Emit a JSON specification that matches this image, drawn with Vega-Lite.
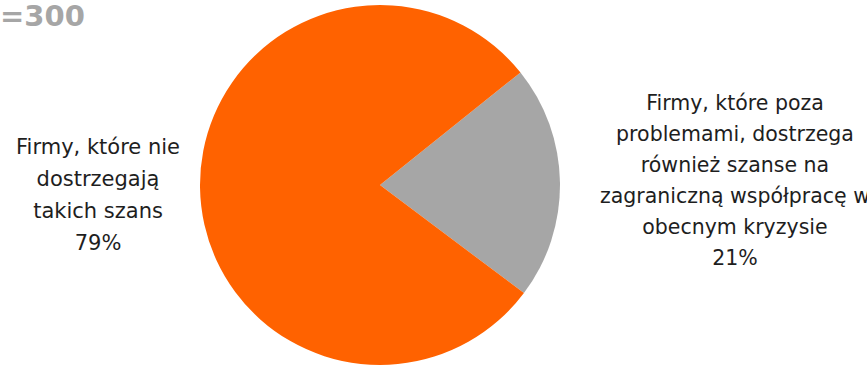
{
  "$schema": "https://vega.github.io/schema/vega-lite/v6.json",
  "width": 760,
  "height": 366,
  "autosize": {"type": "none"},
  "padding": {"left": 0, "top": 2, "right": 107, "bottom": 0},
  "title": {
    "text": "=300",
    "anchor": "start",
    "frame": "group",
    "offset": -30,
    "fontSize": 29,
    "fontWeight": "bold",
    "font": "DejaVu Sans",
    "color": "#A6A6A6"
  },
  "data": {
    "values": [
      {"kategoria": "Dostrzegają szanse", "label": "Firmy, które poza\nproblemami, dostrzega\nrównież szanse na\nzagraniczną współpracę w\nobecnym kryzysie\n21%", "value": 21},
      {"kategoria": "Nie dostrzegają", "label": "Firmy, które nie\ndostrzegają\ntakich szans\n79%", "value": 79}
    ]
  },
  "encoding": {
    "theta": {"field": "value", "type": "quantitative", "stack": true, "scale": {"range": [0.8954, 7.1786]}},
    "order": {"field": "kategoria", "sort": "ascending"}
  },
  "layer": [
    {
      "mark": {"type": "arc", "outerRadius": 180},
      "encoding": {
        "color": {"field": "kategoria", "type": "nominal", "scale": {"domain": ["Dostrzegają szanse", "Nie dostrzegają"], "range": ["#A6A6A6", "#FF6200"]}, "legend": null}
      }
    },
    {
      "mark": {"type": "text", "radius": 282, "dy": -41, "align": "center", "baseline": "middle", "lineBreak": "\n", "lineHeight": 31.7, "font": "DejaVu Sans", "fontSize": 21, "color": "#1e1e1e"},
      "encoding": {
        "detail": {"field": "kategoria"},
        "text": {"condition": {"test": "datum.kategoria === 'Dostrzegają szanse'", "value": ""}, "field": "label"}
      }
    },
    {
      "mark": {"type": "text", "radius": 355, "dy": -75, "align": "center", "baseline": "middle", "lineBreak": "\n", "lineHeight": 31, "font": "DejaVu Sans", "fontSize": 20.5, "color": "#1e1e1e"},
      "encoding": {
        "detail": {"field": "kategoria"},
        "text": {"condition": {"test": "datum.kategoria === 'Nie dostrzegają'", "value": ""}, "field": "label"}
      }
    }
  ],
  "config": {"view": {"stroke": null}}
}
